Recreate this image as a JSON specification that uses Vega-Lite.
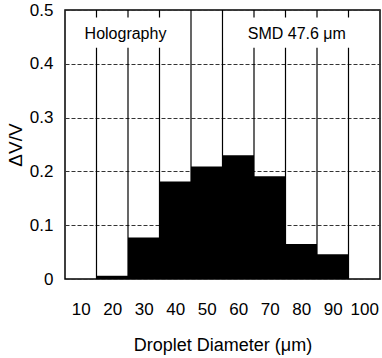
{
  "$schema": "https://vega.github.io/schema/vega-lite/v6.json",
  "width": 315,
  "height": 269,
  "autosize": {"type": "none"},
  "padding": {"left": 65, "top": 10, "right": 2, "bottom": 79},
  "background": "white",
  "config": {
    "view": {"stroke": "black", "strokeWidth": 1.5},
    "font": "Liberation Sans",
    "axis": {"labelFont": "Liberation Sans", "titleFont": "Liberation Sans", "labelColor": "black", "titleColor": "black", "titleFontWeight": "normal"}
  },
  "datasets": {
    "bars": [
      {"diameter": 10, "lo": 5, "hi": 15, "dv": 0},
      {"diameter": 20, "lo": 15, "hi": 25, "dv": 0.006},
      {"diameter": 30, "lo": 25, "hi": 35, "dv": 0.077},
      {"diameter": 40, "lo": 35, "hi": 45, "dv": 0.181},
      {"diameter": 50, "lo": 45, "hi": 55, "dv": 0.209},
      {"diameter": 60, "lo": 55, "hi": 65, "dv": 0.230},
      {"diameter": 70, "lo": 65, "hi": 75, "dv": 0.191},
      {"diameter": 80, "lo": 75, "hi": 85, "dv": 0.065},
      {"diameter": 90, "lo": 85, "hi": 95, "dv": 0.046},
      {"diameter": 100, "lo": 95, "hi": 105, "dv": 0}
    ],
    "edges": [
      {"edge": 15}, {"edge": 25}, {"edge": 35}, {"edge": 45}, {"edge": 55},
      {"edge": 65}, {"edge": 75}, {"edge": 85}, {"edge": 95}
    ],
    "boxes": [
      {"x1": 5.4, "x2": 44.6, "y1": 0.43, "y2": 0.486, "label": "Holography", "tx": 24.2, "ty": 0.456},
      {"x1": 55.4, "x2": 104.6, "y1": 0.43, "y2": 0.486, "label": "SMD 47.6 μm", "tx": 78.6, "ty": 0.456}
    ]
  },
  "layer": [
    {
      "data": {"name": "edges"},
      "mark": {"type": "rule", "color": "black", "strokeWidth": 1.2},
      "encoding": {
        "x": {
          "field": "edge", "type": "quantitative",
          "scale": {"domain": [5, 105], "nice": false, "zero": false},
          "axis": {
            "title": "Droplet Diameter (μm)",
            "values": [10, 20, 30, 40, 50, 60, 70, 80, 90, 100],
            "tickCount": 20,
            "labelOverlap": false,
            "labelFlush": false,
            "labelFontSize": 17,
            "labelPadding": 22,
            "ticks": false,
            "domain": false,
            "grid": false,
            "titleFontSize": 18,
            "titlePadding": 19
          }
        }
      }
    },
    {
      "data": {"name": "bars"},
      "mark": {"type": "rect", "color": "black"},
      "encoding": {
        "x": {"field": "lo", "type": "quantitative"},
        "x2": {"field": "hi"},
        "y": {
          "field": "dv", "type": "quantitative",
          "scale": {"domain": [0, 0.5], "nice": false},
          "axis": {
            "title": "ΔV/V",
            "values": [0, 0.1, 0.2, 0.3, 0.4, 0.5],
            "tickCount": 10,
            "format": ".1~f",
            "labelFontSize": 17,
            "labelPadding": 12,
            "ticks": false,
            "domain": false,
            "grid": true,
            "gridColor": "#333",
            "gridDash": [4, 2],
            "gridWidth": 1,
            "titleFontSize": 19,
            "titlePadding": 4
          }
        },
        "y2": {"datum": 0}
      }
    },
    {
      "data": {"name": "boxes"},
      "mark": {"type": "rect", "color": "white"},
      "encoding": {
        "x": {"field": "x1", "type": "quantitative"},
        "x2": {"field": "x2"},
        "y": {"field": "y1", "type": "quantitative"},
        "y2": {"field": "y2"}
      }
    },
    {
      "data": {"name": "boxes"},
      "mark": {"type": "text", "fontSize": 16, "font": "Liberation Sans", "color": "black", "align": "center", "baseline": "middle"},
      "encoding": {
        "x": {"field": "tx", "type": "quantitative"},
        "y": {"field": "ty", "type": "quantitative"},
        "text": {"field": "label"}
      }
    }
  ]
}
